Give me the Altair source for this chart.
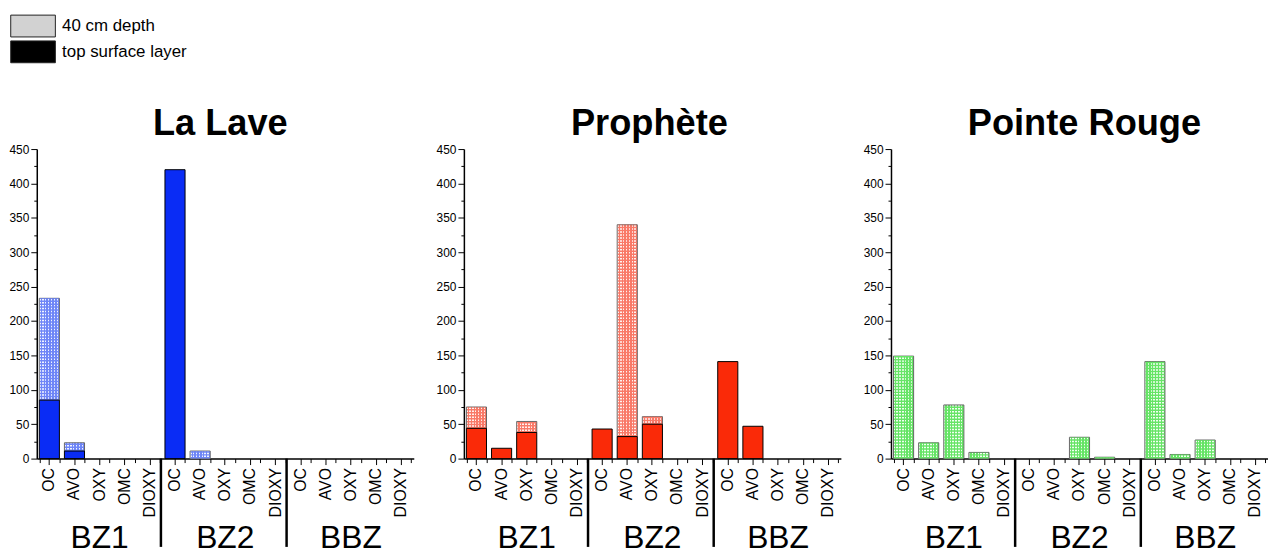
import altair as alt
import pandas as pd

# ---------------- data ----------------
categories = ["OC", "AVO", "OXY", "OMC", "DIOXY"]
groups = ["BZ1", "BZ2", "BBZ"]
sites = ["La Lave", "Prophète", "Pointe Rouge"]
layers = ["40 cm depth", "top surface layer"]

# values per site, ordered BZ1 (OC..DIOXY), BZ2 (OC..DIOXY), BBZ (OC..DIOXY)
lalave_surface = [85, 11, 0, 0, 0, 420, 0, 0, 0, 0, 0, 0, 0, 0, 0]
lalave_depth = [148, 12, 0, 0, 0, 0, 11, 0, 0, 0, 0, 0, 0, 0, 0]
prophete_surface = [44, 15, 38, 0, 0, 43, 32, 50, 0, 0, 141, 47, 0, 0, 0]
prophete_depth = [31, 0, 16, 0, 0, 0, 308, 11, 0, 0, 0, 0, 0, 0, 0]
pointe_surface = [0, 0, 0, 0, 0, 0, 0, 0, 0, 0, 0, 0, 0, 0, 0]
pointe_depth = [149, 23, 78, 9, 0, 0, 0, 31, 2, 0, 141, 6, 27, 0, 0]

y_ticks = [0, 50, 100, 150, 200, 250, 300, 350, 400, 450]
y_minor = [25, 75, 125, 175, 225, 275, 325, 375, 425]

# ---------------- styling ----------------
FONT = "Liberation Sans"
W, H = 380, 312
PAD_IN = 0.2
BAND = W / 15 * (1 - PAD_IN)
keys = [f"{g}|{c}" for g in groups for c in categories]
sep_keys = [f"{g}|{categories[-1]}" for g in groups[:-1]]
mid_keys = [f"{g}|{categories[2]}" for g in groups]

styles = {
    "La Lave": dict(solid="#0a2cf5", light="#f1f4ff", dark="#6f86f7", dx=-5),
    "Prophète": dict(solid="#fa2a08", light="#fff2f0", dark="#f97a68", dx=-3),
    "Pointe Rouge": dict(solid="#22dd22", light="#f0fef0", dark="#66e466", dx=5),
}


def hatch(light, dark, n=7):
    stops = []
    for i in range(n):
        a, b, c = i / n, (i + 0.5) / n, (i + 1) / n
        stops += [
            alt.GradientStop(color=light, offset=a),
            alt.GradientStop(color=light, offset=b),
            alt.GradientStop(color=dark, offset=b),
            alt.GradientStop(color=dark, offset=c),
        ]
    return alt.Gradient(gradient="linear", x1=0, x2=1, y1=0, y2=0, stops=stops)


xscale = alt.Scale(domain=keys, paddingInner=PAD_IN, paddingOuter=PAD_IN / 2)
yscale = alt.Scale(domain=[0, 450], nice=False, zero=True)

x_main_axis = alt.Axis(
    title=None, labelExpr="split(datum.value, '|')[1]", labelAngle=-90,
    labelAlign="right", labelBaseline="middle", labelFontSize=16, labelFont=FONT,
    labelColor="black", labelPadding=3, tickSize=6, tickColor="black",
    domainColor="black", domainWidth=1.5, orient="bottom", grid=False,
)
x_minor_axis = alt.Axis(
    title=None, labels=False, domain=False, tickBand="extent", tickSize=4,
    tickColor="black", orient="bottom", grid=False,
)
y_main_axis = alt.Axis(
    title=None, values=y_ticks, labelFontSize=12, labelFont=FONT, labelColor="black",
    tickSize=6, tickColor="black", domainColor="black", domainWidth=1.5,
    labelPadding=2, grid=False, orient="left",
)
y_minor_axis = alt.Axis(
    title=None, values=y_minor, labels=False, domain=False, tickSize=3,
    tickColor="black", grid=False, orient="left",
)


def panel(site, surface, depth, with_legend=False):
    st = styles[site]
    df = pd.DataFrame({
        "key": keys,
        "group": [g for g in groups for _ in categories],
        "cat": [c for _ in groups for c in categories],
        "surface": surface,
        "depth": depth,
    })
    df["top"] = df["surface"] + df["depth"]
    base = alt.Chart(df)
    deep = base.transform_filter("datum.depth > 0")

    hatched = deep.mark_bar(
        fill=hatch(st["light"], st["dark"]), stroke="#666666", strokeWidth=1
    ).encode(
        x=alt.X("key:N", sort=keys, scale=xscale, axis=x_main_axis),
        y=alt.Y("surface:Q", scale=yscale, axis=y_main_axis),
        y2="top:Q",
    )
    # horizontal half of the cross-hatch: a dashed rule as wide as the bar
    cross = deep.mark_rule(
        color=st["dark"], strokeWidth=BAND - 1.2, strokeDash=[1.5, 1.5], strokeCap="butt"
    ).encode(
        x=alt.X("key:N", sort=keys, scale=xscale, axis=None),
        y=alt.Y("surface:Q", scale=yscale, axis=None),
        y2="top:Q",
    )
    solid = base.transform_filter("datum.surface > 0").mark_bar(
        color=st["solid"], stroke="black", strokeWidth=1
    ).encode(
        x=alt.X("key:N", sort=keys, scale=xscale, axis=None),
        y=alt.Y("surface:Q", scale=yscale, axis=None),
    )
    minor = base.mark_point(opacity=0, size=1).encode(
        x=alt.X("key:N", sort=keys, scale=xscale, axis=x_minor_axis),
        y=alt.Y("surface:Q", scale=yscale, axis=y_minor_axis),
    )
    seps = alt.Chart(pd.DataFrame({"key": sep_keys})).mark_rule(
        color="black", strokeWidth=2.5, xOffset=1
    ).encode(
        x=alt.X("key:N", sort=keys, scale=xscale, axis=None, bandPosition=1),
        y=alt.value(H),
        y2=alt.value(H + 89),
    )
    glabels = alt.Chart(pd.DataFrame({"key": mid_keys, "group": groups})).mark_text(
        fontSize=32, font=FONT, baseline="alphabetic", align="center", color="black"
    ).encode(
        x=alt.X("key:N", sort=keys, scale=xscale, axis=None),
        y=alt.value(H + 90),
        text="group:N",
    )
    parts = [hatched, cross, solid, minor, seps, glabels]
    if with_legend:
        leg = alt.Chart(pd.DataFrame({"layer": layers})).transform_filter("false").mark_bar().encode(
            color=alt.Color(
                "layer:N",
                scale=alt.Scale(domain=layers, range=["#d2d2d2", "black"]),
                legend=alt.Legend(
                    title=None, orient="none", legendX=-15.75, legendY=-136,
                    symbolType="M-2,-0.978H2V0.978H-2Z", symbolSize=506.25,
                    symbolStrokeColor="#222", symbolStrokeWidth=1, symbolOpacity=1,
                    labelFontSize=17, labelFont=FONT, labelColor="black",
                    rowPadding=-5.5, labelOffset=17.25, padding=0,
                ),
            )
        )
        parts.append(leg)
    return alt.layer(*parts).resolve_axis(x="independent", y="independent").properties(
        width=W, height=H,
        view=alt.ViewBackground(strokeWidth=0),
        title=alt.TitleParams(site, fontSize=36.5, font=FONT, fontWeight="bold",
                              color="black", offset=1, anchor="middle", frame="group",
                              dx=st["dx"]),
    )


chart = alt.hconcat(
    panel("La Lave", lalave_surface, lalave_depth, with_legend=True),
    panel("Prophète", prophete_surface, prophete_depth),
    panel("Pointe Rouge", pointe_surface, pointe_depth),
    spacing=21.5,
).properties(
    padding={"left": 0, "top": 4, "right": 0, "bottom": 0},
    background="white",
).configure_view(strokeWidth=0)

chart.save("out.html", embed_options={"renderer": "svg", "actions": False})
